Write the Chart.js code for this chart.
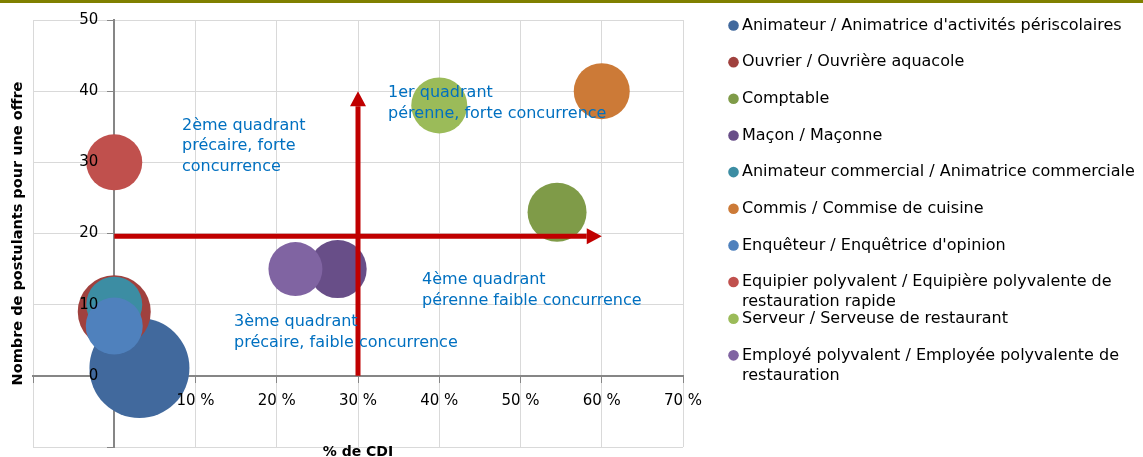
<!DOCTYPE html>
<html><head><meta charset="utf-8">
<script src="https://cdn.jsdelivr.net/npm/chart.js@4.4.0/dist/chart.umd.min.js"></script>
<style>html,body{margin:0;padding:0;background:#fff;overflow:hidden}#wrap{width:1143px;height:457px;position:relative}</style>
</head><body><div id="wrap"><canvas id="c" width="1143" height="457"></canvas></div>
<script>
// ---- données ----
const metiers = [
  "Animateur / Animatrice d'activités périscolaires",
  "Ouvrier / Ouvrière aquacole",
  "Comptable",
  "Maçon / Maçonne",
  "Animateur commercial / Animatrice commerciale",
  "Commis / Commise de cuisine",
  "Enquêteur / Enquêtrice d'opinion",
  "Equipier polyvalent / Equipière polyvalente de restauration rapide",
  "Serveur / Serveuse de restaurant",
  "Employé polyvalent / Employée polyvalente de restauration"
];
const pctCDI     = [3.1, 0, 54.5, 27.5, 0, 60, 0, 0, 40, 22.3];
const postulants = [1.1, 9, 23, 15, 10, 40, 7, 30, 38, 15];
const tailles    = [50, 36.5, 29.5, 29, 28, 28, 28.5, 28, 28, 27];
const couleurs   = ['#41699D','#A0413E','#7F9B48','#684E88','#3C8DA3','#CC7A37','#4F81BD','#C0504D','#9BBB59','#8064A2'];
const xMin = -10, xMax = 70, xStep = 10;
const yMin = -10, yMax = 50, yStep = 10;
const titreX = '% de CDI';
const titreY = 'Nombre de postulants pour une offre';
const quadrants = [
  {lines:['1er quadrant','pérenne, forte concurrence'], x:33.7, y:39.8},
  {lines:['2ème quadrant','précaire, forte','concurrence'], x:8.34, y:35.17},
  {lines:['3ème quadrant','précaire, faible concurrence'], x:14.74, y:7.52},
  {lines:['4ème quadrant','pérenne faible concurrence'], x:37.88, y:13.42}
];
const fleches = [
  {x1:30, y1:0, x2:30, y2:40},
  {x1:0, y1:19.6, x2:60, y2:19.6}
];

const FONT = '"DejaVu Sans", sans-serif';
const N = metiers.length;
const datasets = metiers.map((m, i) => ({
  label: m,
  data: [{x: pctCDI[i], y: postulants[i], r: tailles[i]}],
  backgroundColor: couleurs[i],
  borderWidth: 0,
  hoverRadius: 0,
  order: N - i
}));

const zeroFit = (s, horiz) => {
  if (horiz) s.height = 0; else s.width = 0;
  s.paddingLeft = s.paddingRight = s.paddingTop = s.paddingBottom = 0;
};

const decor = {
  id: 'decor',
  afterLayout(chart) {
    const ys = chart.scales.y;
    if (ys && !ys.__shifted) {
      const orig = ys._computeLabelItems;
      ys._computeLabelItems = function (ca) {
        const items = orig.call(this, ca);
        items.forEach(it => { if (it.options && it.options.translation) it.options.translation[0] -= 16; });
        return items;
      };
      ys.__shifted = true;
    }
    if (ys) ys._labelItems = null;
  },
  beforeDraw(chart) {
    const ctx = chart.ctx;
    ctx.save();
    ctx.fillStyle = '#fff';
    ctx.fillRect(0, 0, chart.width, chart.height);
    ctx.fillStyle = '#808000';
    ctx.fillRect(0, 0, chart.width, 3);
    ctx.restore();
  },
  afterDatasetsDraw(chart) {
    const ctx = chart.ctx, xs = chart.scales.x, ys = chart.scales.y;
    ctx.save();
    ctx.strokeStyle = '#C00000'; ctx.fillStyle = '#C00000'; ctx.lineWidth = 5;
    const head = 15, hw = 8;
    fleches.forEach(f => {
      const x1 = xs.getPixelForValue(f.x1), y1 = ys.getPixelForValue(f.y1);
      const x2 = xs.getPixelForValue(f.x2), y2 = ys.getPixelForValue(f.y2);
      const a = Math.atan2(y2 - y1, x2 - x1);
      const bx = x2 - head * Math.cos(a), by = y2 - head * Math.sin(a);
      ctx.beginPath(); ctx.moveTo(x1, y1); ctx.lineTo(bx, by); ctx.stroke();
      ctx.beginPath();
      ctx.moveTo(x2, y2);
      ctx.lineTo(bx + hw * Math.sin(a), by - hw * Math.cos(a));
      ctx.lineTo(bx - hw * Math.sin(a), by + hw * Math.cos(a));
      ctx.closePath(); ctx.fill();
    });
    ctx.fillStyle = '#0070C0';
    ctx.font = '16px ' + FONT;
    ctx.textAlign = 'left'; ctx.textBaseline = 'middle';
    quadrants.forEach(q => {
      const px = xs.getPixelForValue(q.x), py = ys.getPixelForValue(q.y);
      q.lines.forEach((l, k) => ctx.fillText(l, px, py + k * 20.8));
    });
    ctx.restore();
  },
  afterDraw(chart) {
    const ctx = chart.ctx, ca = chart.chartArea;
    ctx.save();
    ctx.fillStyle = '#000';
    ctx.font = 'bold 14.5px ' + FONT;
    ctx.textAlign = 'center'; ctx.textBaseline = 'middle';
    ctx.translate(18, (ca.top + ca.bottom) / 2);
    ctx.rotate(-Math.PI / 2);
    ctx.fillText(titreY, 0, 0);
    ctx.setTransform(1, 0, 0, 1, 0, 0);
    ctx.font = 'bold 14px ' + FONT;
    ctx.textBaseline = 'alphabetic';
    ctx.fillText(titreX, (ca.left + ca.right) / 2, 456);
    ctx.font = '16px ' + FONT;
    ctx.textAlign = 'left'; ctx.textBaseline = 'middle';
    const maxW = 400;
    chart.data.datasets.forEach((ds, i) => {
      const y = 25.5 + i * 36.65;
      ctx.fillStyle = ds.backgroundColor;
      ctx.beginPath(); ctx.arc(733.5, y, 5.3, 0, Math.PI * 2); ctx.fill();
      ctx.fillStyle = '#000';
      const words = ds.label.split(' ');
      let line = '', lines = [];
      words.forEach(w => {
        const t = line ? line + ' ' + w : w;
        if (ctx.measureText(t).width > maxW && line) { lines.push(line); line = w; }
        else line = t;
      });
      lines.push(line);
      lines.forEach((l, k) => ctx.fillText(l, 742, y + k * 20));
    });
    ctx.restore();
  }
};

const chart = new Chart(document.getElementById('c'), {
  type: 'bubble',
  data: { datasets },
  options: {
    responsive: false,
    animation: false,
    devicePixelRatio: 1,
    events: [],
    layout: { autoPadding: false, padding: { left: 33, top: 20, right: 460, bottom: 10 } },
    plugins: { legend: { display: false }, tooltip: { enabled: false } },
    scales: {
      x: {
        type: 'linear', min: xMin, max: xMax,
        position: { y: 0 },
        afterFit: s => zeroFit(s, true),
        grid: { color: '#D9D9D9', lineWidth: 1, tickColor: '#868686', tickLength: 6 },
        border: { display: true, color: '#868686', width: 2 },
        ticks: { stepSize: xStep, color: '#000', font: { family: FONT, size: 15 }, padding: 10, z: 1,
          callback: v => v <= 0 ? '' : v + ' %' }
      },
      y: {
        type: 'linear', min: yMin, max: yMax,
        position: { x: 0 },
        afterFit: s => zeroFit(s, false),
        grid: { color: '#D9D9D9', lineWidth: 1, tickColor: '#868686', tickLength: 6 },
        border: { display: true, color: '#868686', width: 2 },
        ticks: { stepSize: yStep, color: '#000', font: { family: FONT, size: 15 }, padding: 10, z: 1,
          callback: v => v < 0 ? '' : String(v) }
      }
    }
  },
  plugins: [decor]
});

// ajuster la zone de tracé sur la zone cible
const cible = { left: 33, top: 20, right: 683, bottom: 447 };
for (let k = 0; k < 5; k++) {
  const ca = chart.chartArea, p = chart.options.layout.padding;
  const dl = ca.left - cible.left, dt = ca.top - cible.top;
  const dr = ca.right - cible.right, db = ca.bottom - cible.bottom;
  if (Math.abs(dl) + Math.abs(dt) + Math.abs(dr) + Math.abs(db) < 0.3) break;
  p.left -= dl; p.top -= dt; p.right += dr; p.bottom += db;
  chart.update();
}
</script>
</body></html>
